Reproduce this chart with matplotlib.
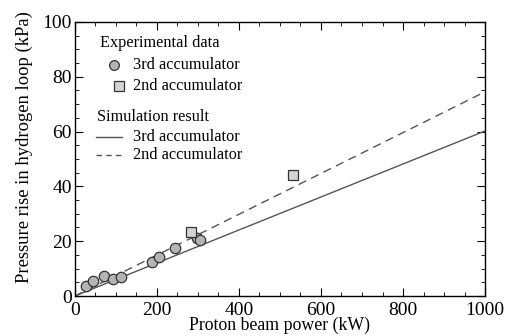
import matplotlib
matplotlib.use("Agg")
import matplotlib.pyplot as plt
import numpy as np

plt.rcParams['font.family'] = ['Liberation Serif', 'DejaVu Serif']

# experimental data, 3rd accumulator
exp3_x = [27, 45, 71, 93, 113, 189, 206, 245, 299, 305]
exp3_y = [3.8, 5.5, 7.3, 6.2, 6.9, 12.5, 14.3, 17.6, 21.0, 20.4]
# experimental data, 2nd accumulator
exp2_x = [283, 531]
exp2_y = [23.2, 44.3]
# simulation result
sim_x = [0, 1000]
sim3_y = [0, 60.2]
sim2_y = [0, 74.5]

fig = plt.figure(figsize=(5.09, 3.36), dpi=100)
ax = fig.add_axes([0.147, 0.119, 0.806, 0.816])

ax.plot(sim_x, sim3_y, '-', color='#555555', lw=1.0)
ax.plot(sim_x, sim2_y, '--', color='#555555', lw=1.0, dashes=(6, 4))
ax.plot(exp3_x, exp3_y, 'o', ms=7.5, mfc='#b4b4b4', mec='#333333', mew=0.9, clip_on=False)
ax.plot(exp2_x, exp2_y, 's', ms=7.5, mfc='#d4d4d4', mec='#333333', mew=0.9)

ax.set_xlim(0, 1000)
ax.set_ylim(0, 100)
ax.set_xticks(np.arange(0, 1001, 200))
ax.set_yticks(np.arange(0, 101, 20))
ax.set_xticks(np.arange(0, 1001, 50), minor=True)
ax.set_yticks(np.arange(0, 101, 5), minor=True)
ax.tick_params(which='both', direction='in', top=True, right=True, labelsize=14)
ax.tick_params(axis='x', which='major', pad=4)
ax.tick_params(axis='y', which='major', pad=2)
ax.tick_params(which='major', length=6)
ax.tick_params(which='minor', length=3)
for s in ax.spines.values():
    s.set_linewidth(1.0)

ax.set_xlabel('Proton beam power (kW)', fontsize=12.8, labelpad=-1)
ax.set_ylabel('Pressure rise in hydrogen loop (kPa)', fontsize=13.4)
ax.yaxis.set_label_coords(-0.102, 0.544)

# legend drawn by hand in data coordinates
fs = 11.7
ax.text(61, 92.3, 'Experimental data', fontsize=fs, va='center')
ax.plot([95], [84.3], 'o', ms=7, mfc='#b4b4b4', mec='#333333', mew=0.9)
ax.text(141, 84.3, '3rd accumulator', fontsize=fs, va='center')
ax.plot([108], [76.6], 's', ms=7, mfc='#d4d4d4', mec='#333333', mew=0.9)
ax.text(141, 76.6, '2nd accumulator', fontsize=fs, va='center')
ax.text(53, 65.3, 'Simulation result', fontsize=fs, va='center')
ax.plot([51, 115], [58, 58], '-', color='#555555', lw=1.0)
ax.text(141, 58, '3rd accumulator', fontsize=fs, va='center')
ax.plot([51, 115], [51.5, 51.5], '--', color='#555555', lw=1.0, dashes=(4, 3))
ax.text(141, 51.5, '2nd accumulator', fontsize=fs, va='center')

fig.savefig('out.png', dpi=100)
